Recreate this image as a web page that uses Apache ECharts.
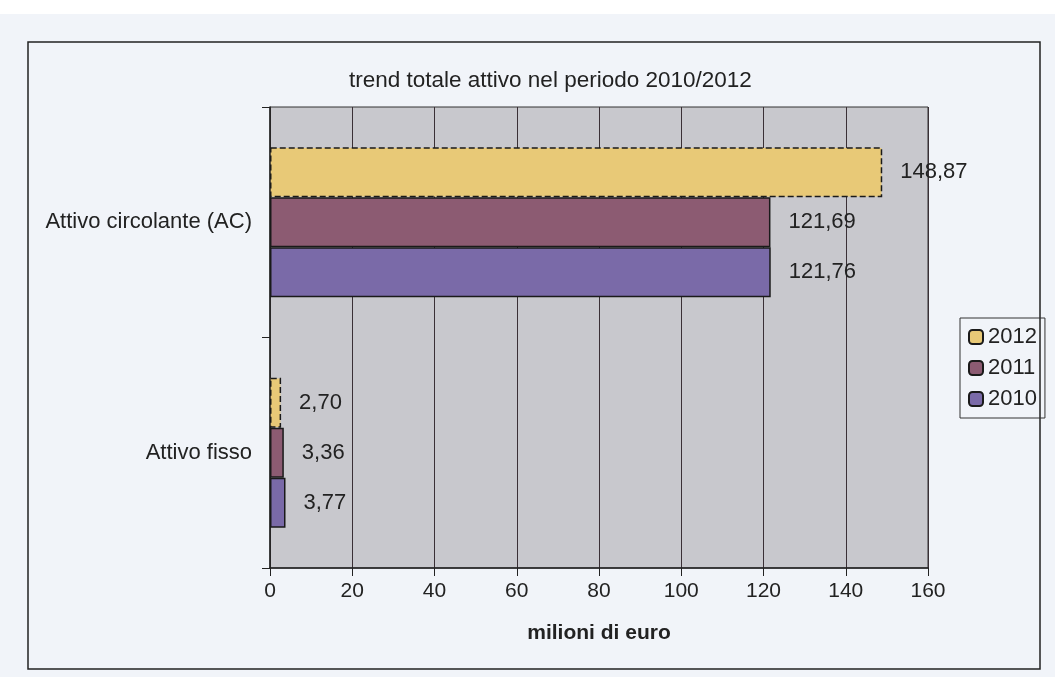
<!DOCTYPE html>
<html>
<head>
<meta charset="utf-8">
<script src="https://cdn.jsdelivr.net/npm/echarts@6/dist/echarts.min.js"></script>
<style>
  html, body { margin: 0; padding: 0; background: #f1f4f9; }
  #chart { width: 1055px; height: 677px; }
</style>
</head>
<body>
<div id="chart"></div>
<script>
// dati
const categories = ['Attivo fisso', 'Attivo circolante (AC)'];
const years = ['2012', '2011', '2010'];
const values2012 = [2.70, 148.87];
const values2011 = [3.36, 121.69];
const values2010 = [3.77, 121.76];
const xTicks = [0, 20, 40, 60, 80, 100, 120, 140, 160];

const colors = ['#e8c977', '#8c5b72', '#7a6aa8'];
const fontFamily = '"Liberation Sans", Arial, sans-serif';

const fmt = v => v.toFixed(2).replace('.', ',');

function makeSeries(name, data, color, dashed) {
  return {
    name: name,
    type: 'bar',
    data: data,
    barWidth: 50,
    barGap: '0%',
    itemStyle: {
      color: color,
      borderColor: '#1a1a1a',
      borderWidth: 1.5,
      borderType: dashed ? 'dashed' : 'solid'
    },
    label: {
      show: true,
      position: 'right',
      distance: 18,
      color: '#222',
      fontSize: 22,
      fontFamily: fontFamily,
      formatter: p => fmt(p.value)
    }
  };
}

const chart = echarts.init(document.getElementById('chart'));
const option = {
  animation: false,
  textStyle: { fontFamily: fontFamily },
  title: {
    text: 'trend totale attivo nel periodo 2010/2012',
    left: 344,
    top: 64,
    textStyle: { fontSize: 22.5, fontWeight: 'normal', color: '#222', fontFamily: fontFamily }
  },
  legend: {
    data: years,
    orient: 'vertical',
    left: 960,
    top: 318,
    itemWidth: 14,
    itemHeight: 14,
    itemGap: 9,
    padding: [8, 8, 8, 8],
    borderColor: '#333',
    borderWidth: 1,
    textStyle: { fontSize: 22, color: '#222', fontFamily: fontFamily }
  },
  grid: {
    left: 270,
    right: 127,
    top: 107,
    bottom: 109,
    show: true,
    backgroundColor: '#c8c8cd',
    borderColor: '#333',
    borderWidth: 1
  },
  xAxis: {
    type: 'value',
    min: xTicks[0],
    max: xTicks[xTicks.length - 1],
    interval: 20,
    name: 'milioni di euro',
    nameLocation: 'middle',
    nameGap: 55,
    nameTextStyle: { fontSize: 21, fontWeight: 'bold', color: '#222', fontFamily: fontFamily },
    axisLine: { show: true, lineStyle: { color: '#222', width: 1.5 } },
    axisTick: { show: true, length: 8, lineStyle: { color: '#222' } },
    axisLabel: { fontSize: 21, color: '#222', margin: 13, fontFamily: fontFamily },
    splitLine: { show: true, lineStyle: { color: '#3a3036', width: 1 } }
  },
  yAxis: {
    type: 'category',
    data: categories,
    axisLine: { show: true, lineStyle: { color: '#222', width: 1.5 } },
    axisTick: { show: true, length: 8, lineStyle: { color: '#222' } },
    axisLabel: { fontSize: 22, color: '#222', margin: 18, fontFamily: fontFamily },
    splitLine: { show: false }
  },
  graphic: [{
    type: 'rect',
    shape: { x: 0, y: 0, width: 1055, height: 14 },
    style: { fill: '#ffffff' },
    silent: true,
    z: -2
  }, {
    type: 'rect',
    shape: { x: 28, y: 42, width: 1012, height: 627 },
    style: { fill: null, stroke: '#222', lineWidth: 1.5 },
    silent: true,
    z: -1
  }],
  series: [
    makeSeries(years[0], values2012, colors[0], true),
    makeSeries(years[1], values2011, colors[1], false),
    makeSeries(years[2], values2010, colors[2], false)
  ]
};
chart.setOption(option);
</script>
</body>
</html>
